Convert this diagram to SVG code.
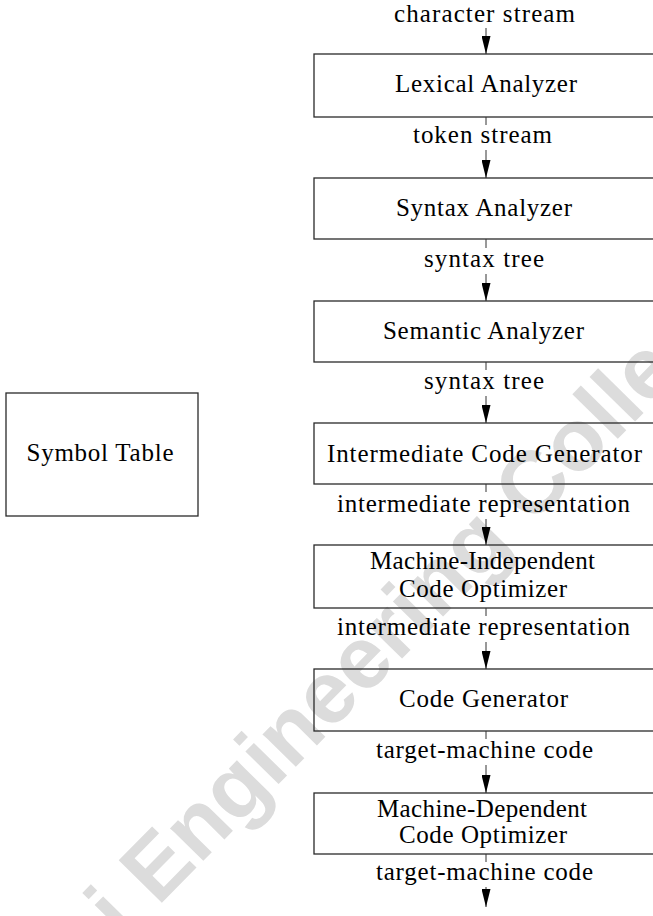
<svg xmlns="http://www.w3.org/2000/svg" width="653" height="916" viewBox="0 0 653 916">
<defs>
<marker id="ah" markerUnits="userSpaceOnUse" markerWidth="18" markerHeight="9" refX="18" refY="4.5" orient="auto">
<path d="M0,0 L18,4.5 L0,9 z" fill="#000"/>
</marker>
<style>
.box{fill:none;stroke:#2a2a2a;stroke-width:1.3}
.t{font-family:"Liberation Serif","Times New Roman",serif;font-size:25px;fill:#000;text-anchor:middle}
.c{stroke:#333;stroke-width:1;fill:none}
.wm{font-family:"Liberation Sans",Arial,sans-serif;font-weight:bold;font-size:88px;fill:#dcdcdc}
</style>
</defs>
<rect x="0" y="0" width="653" height="916" fill="#fff"/>
<g id="watermark" transform="translate(123.5,942) rotate(-45.5)">
<text class="wm" x="0" y="0">i Engineering College</text>
</g>
<g id="symbol-table">
<rect class="box" x="6" y="393" width="192" height="123"/>
<text class="t" x="100" y="461" textLength="147" lengthAdjust="spacing">Symbol Table</text>
</g>
<g id="lexical">
<rect class="box" x="314" y="54" width="346" height="63"/>
<text class="t" x="486" y="92" textLength="182" lengthAdjust="spacing">Lexical Analyzer</text>
</g>
<g id="syntax">
<rect class="box" x="314" y="178" width="346" height="61"/>
<text class="t" x="484" y="216" textLength="176" lengthAdjust="spacing">Syntax Analyzer</text>
</g>
<g id="semantic">
<rect class="box" x="314" y="301" width="346" height="61"/>
<text class="t" x="483.5" y="339" textLength="201" lengthAdjust="spacing">Semantic Analyzer</text>
</g>
<g id="icg">
<rect class="box" x="314" y="423" width="346" height="61"/>
<text class="t" x="484.5" y="462" textLength="315" lengthAdjust="spacing">Intermediate Code Generator</text>
</g>
<g id="mio">
<rect class="box" x="314" y="545" width="346" height="63"/>
<text class="t" x="482.5" y="569" textLength="225" lengthAdjust="spacing">Machine-Independent</text>
<text class="t" x="483" y="597" textLength="168" lengthAdjust="spacing">Code Optimizer</text>
</g>
<g id="codegen">
<rect class="box" x="314" y="669" width="346" height="62"/>
<text class="t" x="483.5" y="707" textLength="169" lengthAdjust="spacing">Code Generator</text>
</g>
<g id="mdo">
<rect class="box" x="314" y="793" width="346" height="61"/>
<text class="t" x="482" y="817" textLength="210" lengthAdjust="spacing">Machine-Dependent</text>
<text class="t" x="483" y="843" textLength="168" lengthAdjust="spacing">Code Optimizer</text>
</g>
<g id="connectors">
<path class="c" d="M486,28 V54" marker-end="url(#ah)"/>
<path class="c" d="M486,117 V125 M486,150 V178" marker-end="url(#ah)"/>
<path class="c" d="M486,239 V248 M486,274 V301" marker-end="url(#ah)"/>
<path class="c" d="M486,362 V370 M486,396 V423" marker-end="url(#ah)"/>
<path class="c" d="M486,484 V492 M486,519 V545" marker-end="url(#ah)"/>
<path class="c" d="M486,608 V616 M486,642 V669" marker-end="url(#ah)"/>
<path class="c" d="M486,731 V739 M486,765 V793" marker-end="url(#ah)"/>
<path class="c" d="M486,854 V862 M486,887 V907" marker-end="url(#ah)"/>
<text class="t" x="484.5" y="22" textLength="181" lengthAdjust="spacing">character stream</text>
<text class="t" x="482.5" y="143" textLength="139" lengthAdjust="spacing">token stream</text>
<text class="t" x="484" y="267" textLength="120" lengthAdjust="spacing">syntax tree</text>
<text class="t" x="484" y="389" textLength="120" lengthAdjust="spacing">syntax tree</text>
<text class="t" x="483.5" y="512" textLength="293" lengthAdjust="spacing">intermediate representation</text>
<text class="t" x="483.5" y="635" textLength="293" lengthAdjust="spacing">intermediate representation</text>
<text class="t" x="484.5" y="758" textLength="217" lengthAdjust="spacing">target-machine code</text>
<text class="t" x="484.5" y="880" textLength="217" lengthAdjust="spacing">target-machine code</text>
</g>
</svg>
